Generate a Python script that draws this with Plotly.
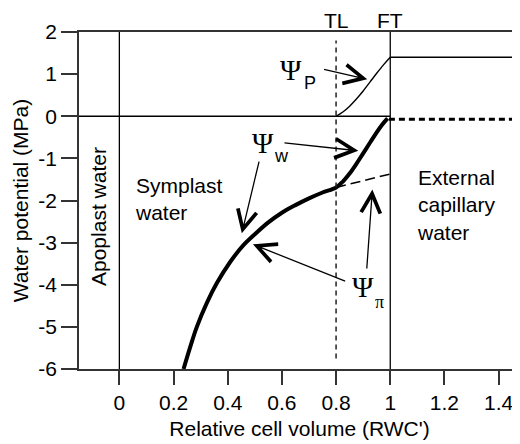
import plotly.graph_objects as go

# ---- data ----
psi_w_x = [0.237, 0.262, 0.286, 0.323, 0.36, 0.409, 0.458, 0.507, 0.55, 0.60, 0.65, 0.70, 0.75, 0.80,
           0.825, 0.85, 0.875, 0.90, 0.925, 0.95, 0.97, 0.99]
psi_w_y = [-6.0, -5.47, -5.0, -4.43, -3.96, -3.46, -3.06, -2.76, -2.52, -2.29, -2.11, -1.95, -1.81, -1.69,
           -1.55, -1.36, -1.13, -0.88, -0.63, -0.38, -0.2, -0.05]
psi_pi_x = [0.80, 0.90, 1.00]
psi_pi_y = [-1.69, -1.53, -1.37]
psi_p_x = [0.80, 0.825, 0.85, 0.875, 0.90, 0.925, 0.95, 0.975, 1.00]
psi_p_y = [0.0, 0.10, 0.24, 0.41, 0.60, 0.81, 1.02, 1.22, 1.40]
psi_p_full_x = [1.00, 1.50]
psi_p_full_y = [1.40, 1.40]
ext_x = [0.995, 1.50]
ext_y = [-0.07, -0.07]
x_ticks = [0, 0.2, 0.4, 0.6, 0.8, 1.0, 1.2, 1.4]
x_ticklabels = ["0", "0.2", "0.4", "0.6", "0.8", "1", "1.2", "1.4"]
y_ticks = [2, 1, 0, -1, -2, -3, -4, -5, -6]
y_ticklabels = ["2", "1", "0", "-1", "-2", "-3", "-4", "-5", "-6"]
TL = 0.8
FT = 1.0

SANS = "Liberation Sans, Arial, sans-serif"
SERIF = "Liberation Serif, Times New Roman, serif"
FS = 21

fig = go.Figure()
fig.add_trace(go.Scatter(x=psi_w_x, y=psi_w_y, mode="lines", line=dict(color="black", width=4, shape="spline"),
                         hoverinfo="skip"))
fig.add_trace(go.Scatter(x=psi_pi_x, y=psi_pi_y, mode="lines",
                         line=dict(color="black", width=1.5, dash="10px,5px"), hoverinfo="skip"))
fig.add_trace(go.Scatter(x=psi_p_x, y=psi_p_y, mode="lines", line=dict(color="black", width=1.4, shape="spline"),
                         hoverinfo="skip"))
fig.add_trace(go.Scatter(x=psi_p_full_x, y=psi_p_full_y, mode="lines", line=dict(color="black", width=1.5),
                         hoverinfo="skip"))
fig.add_trace(go.Scatter(x=ext_x, y=ext_y, mode="lines", line=dict(color="black", width=3, dash="6px,4px"),
                         hoverinfo="skip"))

# reference lines
fig.add_shape(type="line", xref="x", x0=-0.2, x1=FT, yref="y", y0=0, y1=0, line=dict(color="black", width=1.3))
fig.add_shape(type="line", xref="x", x0=0, x1=0, yref="y", y0=-6, y1=2, line=dict(color="black", width=1.3))
fig.add_shape(type="line", xref="x", x0=FT, x1=FT, yref="y", y0=-6, y1=2, line=dict(color="black", width=1.3))
fig.add_shape(type="line", xref="x", x0=TL, x1=TL, yref="y", y0=-5.75, y1=1.8,
              line=dict(color="#222", width=1.5, dash="5px,4px"))

ann = []
def txt(x, y, s, size=FS, family=SANS, yref="y", **kw):
    ann.append(dict(x=x, y=y, xref="x", yref=yref, text=s, showarrow=False,
                    font=dict(size=size, family=family, color="black"), **kw))

def arrow(tx, ty, hx, hy):
    ann.append(dict(x=hx, y=hy, ax=tx, ay=ty, xref="x", yref="y", axref="x", ayref="y", text="",
                    showarrow=True, arrowhead=5, arrowsize=2.9, arrowwidth=1.3, arrowcolor="black"))

txt(TL, 1.035, "TL", yref="paper", yanchor="middle")
txt(FT, 1.035, "FT", yref="paper", yanchor="middle")
txt(0.051, -1.97, "Symplast<br>water", xanchor="left", align="left")
txt(1.092, -2.1, "External<br>capillary<br>water", xanchor="left", align="left")
txt(-0.077, -2.38, "Apoplast water", textangle=-90)

txt(0.634, 1.1, "Ψ", size=29, family=SERIF)
txt(0.705, 0.78, "P", size=18)
txt(0.532, -0.63, "Ψ", size=29, family=SERIF)
txt(0.60, -0.95, "w", size=18)
txt(0.90, -4.05, "Ψ", size=29, family=SERIF)
txt(0.962, -4.41, "π", size=18, family=SERIF)

arrow(0.75, 1.12, 0.915, 0.88)
arrow(0.604, -0.63, 0.882, -0.82)
arrow(0.517, -1.04, 0.452, -2.78)
arrow(0.839, -3.93, 0.493, -3.04)
arrow(0.913, -3.65, 0.934, -1.74)

# the page body adds an 8px offset; margins compensate so the plot lands where the reference has it
fig.update_layout(
    width=520, height=444,
    margin=dict(l=71, r=8, t=24, b=83, pad=0, autoexpand=False),
    plot_bgcolor="white", paper_bgcolor="white",
    showlegend=False,
    annotations=ann,
    font=dict(family=SANS, size=FS, color="black"),
    xaxis=dict(range=[-0.149, 1.479], tickvals=x_ticks, ticktext=x_ticklabels, automargin=False,
               ticks="outside", ticklen=14, tickwidth=1.5, tickcolor="#333",
               showline=True, linecolor="#333", linewidth=1.5, mirror=True,
               showgrid=False, zeroline=False,
               tickfont=dict(size=FS, family=SANS, color="black"),
               title=dict(text="Relative cell volume (RWC')", font=dict(size=FS, family=SANS, color="black"),
                          standoff=8)),
    yaxis=dict(range=[-6, 2], tickvals=y_ticks, ticktext=y_ticklabels, automargin=False,
               ticks="outside", ticklen=16, tickwidth=1.5, tickcolor="#333",
               showline=True, linecolor="#333", linewidth=1.5, mirror=False,
               showgrid=False, zeroline=False,
               tickfont=dict(size=FS, family=SANS, color="black"),
               title=dict(text="Water potential (MPa)", font=dict(size=FS, family=SANS, color="black"),
                          standoff=4)),
)

fig.write_html("out.html")
